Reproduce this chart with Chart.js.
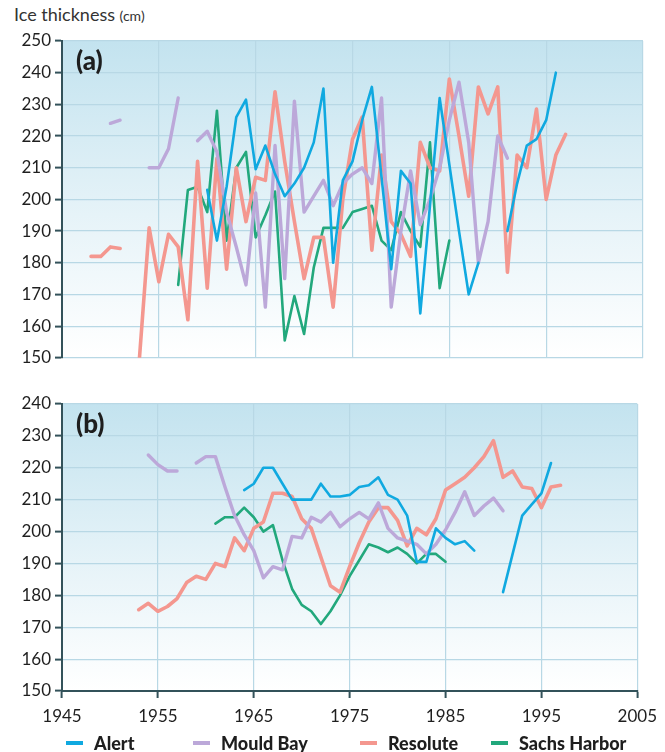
<!DOCTYPE html>
<html>
<head>
<meta charset="utf-8">
<script src="https://cdn.jsdelivr.net/npm/chart.js@4.4.1/dist/chart.umd.min.js"></script>
<style>
  html, body { margin: 0; padding: 0; background: #ffffff; }
  #wrap { position: relative; width: 665px; height: 752px; overflow: hidden; background: #fff; }
  .cv { position: absolute; left: 0; }
  #ylab { position: absolute; left: 14px; top: 3px; font-family: Lato, "Open Sans", sans-serif; font-size: 18px; color: #333; }
  #ylab span { font-size: 14px; }
  .plab { position: absolute; font-family: Lato, sans-serif; font-weight: 900; font-size: 26px; color: #1e1e1e; line-height: 1; }
  #legend { position: absolute; left: 0; top: 731px; width: 665px; height: 24px; }
  .li { position: absolute; top: 0; height: 24px; display: flex; align-items: center; font-family: Lato, sans-serif; font-weight: 900; font-size: 18px; color: #1e1e1e; }
  .li i { display: inline-block; width: 17px; height: 4px; margin-right: 11px; }
</style>
</head>
<body>
<div id="wrap">
  <div id="ylab">Ice thickness <span>(cm)</span></div>
  <canvas id="ca" class="cv" style="top:0" width="665" height="372"></canvas>
  <canvas id="cb" class="cv" style="top:380px" width="665" height="372"></canvas>
  <div class="plab" style="left:76px;top:47px">(a)</div>
  <div class="plab" style="left:76px;top:410px">(b)</div>
  <div id="legend"></div>
</div>
<script>
// ---------- DATA ----------
const years = [1948,1949,1950,1951,1952,1953,1954,1955,1956,1957,1958,1959,
  1960,1961,1962,1963,1964,1965,1966,1967,1968,1969,
  1970,1971,1972,1973,1974,1975,1976,1977,1978,1979,
  1980,1981,1982,1983,1984,1985,1986,1987,1988,1989,
  1990,1991,1992,1993,1994,1995,1996,1997];

const seriesNames = ['Alert', 'Mould Bay', 'Resolute', 'Sachs Harbor'];

const xTicks = [1945, 1955, 1965, 1975, 1985, 1995, 2005];
const yTicksA = [150, 160, 170, 180, 190, 200, 210, 220, 230, 240, 250];
const yTicksB = [150, 160, 170, 180, 190, 200, 210, 220, 230, 240];

// Panel (a): annual values
const alertA = [null,null,null,null,null,null,null,null,null,null,null,null,
  203,187,204,226,231.5,209.5,217,208,201,205,
  210,218,235,180,206,212,225,235.5,207,178,
  209,205,164,198,232,211,190,170,180,null,
  null,190,205,217,219,225,240,null];
const mouldBayA = [null,null,224,225,null,null,210,210,216,232,null,218.5,
  221.5,215,196,185,173,202,166,217,175,231,
  196,201,206,198,205,208,210,205,232,166,
  190,209,192,200,210,225,237,218,180,193,
  220,213,null,null,null,null,null,null];
const resoluteA = [182,182,185,184.5,null,150,191,174,189,185,162,212,
  172,213,178,210,193,207,206,234,212,193,
  175,188,188,166,200,219,226,184,214,193,
  189,182,218,210,209,238,220,201,235.5,227,
  235.5,177,214,210,228.5,200,214,220.5];
const sachsA = [null,null,null,null,null,null,null,null,null,173,203,204,
  196,228,187,210,215,188,195,202.5,155.5,169.5,
  157.5,178.5,191,191,191,196,197,198,187,184,
  196,190,185,218,172,187,null,null,null,null,
  null,null,null,null,null,null,null,null];

// Panel (b): smoothed values
const alertB = [null,null,null,null,null,null,null,null,null,null,null,null,
  null,null,null,null,213,215,220,220,215,210,
  210,210,215,211,211,211.5,214,214.5,217,211.5,
  210,205,190.5,190.5,201,198,196,197,194,null,
  null,181,193,205,208.5,212,221.5,null];
const mouldBayB = [null,null,null,null,null,null,224,221,219,219,null,221.5,
  223.5,223.5,214,205,199,194,185.5,189,188,198.5,
  198,204.5,203,206,201.5,204,206,204,209,201,
  198,197,196,193,196,200.5,206,212.5,205,208,
  210.5,206.5,null,null,null,null,null,null];
const resoluteB = [null,null,null,null,null,175.5,177.5,175,176.5,179,184,186,
  185,190,189,198,194,201,203,212,212,211,
  204,201,192,183,181,189,196.5,203,207.5,207.5,
  203.5,195.5,201,199,204,213,215,217,220,223.5,
  228.5,217,219,214,213.5,207.5,214,214.5];
const sachsB = [null,null,null,null,null,null,null,null,null,null,null,null,
  null,202.5,204.5,204.5,207.5,204.5,200,202,191,182,
  177,175,171,175,180,186,191,196,195,193.5,
  195,193,190,193,193,190.5,null,null,null,null,
  null,null,null,null,null,null,null,null];

// ---------- STYLE ----------
const colors = ['#10a9e0', '#bca8d9', '#f4978f', '#22a87c'];
const widths = [2.6, 3.4, 3.6, 2.6];
const axisColor = '#33525a';
const gridColor = '#b8d8e5';
const tickFont = { family: 'Lato, "Open Sans", sans-serif', size: 17 };

const bgPlugin = {
  id: 'plotBg',
  beforeDraw(chart) {
    const { ctx, chartArea } = chart;
    if (!chartArea) return;
    const { left, top, right, bottom } = chartArea;
    const g = ctx.createLinearGradient(0, top, 0, bottom);
    g.addColorStop(0, '#c3e3ef');
    g.addColorStop(0.55, '#e6f3f8');
    g.addColorStop(1, '#ffffff');
    ctx.save();
    ctx.fillStyle = g;
    ctx.fillRect(left, top, right - left, bottom - top);
    ctx.restore();
  }
};

function makePanel(id, sets, yTicks, isBottom) {
  return new Chart(document.getElementById(id), {
    type: 'line',
    data: {
      datasets: sets.map((vals, i) => ({
        label: seriesNames[i],
        data: years.map((yr, k) => ({ x: yr, y: vals[k] })),
        borderColor: colors[i],
        backgroundColor: colors[i],
        borderWidth: widths[i],
        pointRadius: 0,
        tension: 0,
        spanGaps: false,
        fill: false,
        borderJoinStyle: 'round',
        borderCapStyle: 'round'
      }))
    },
    options: {
      responsive: false,
      animation: false,
      devicePixelRatio: 1,
      layout: { padding: { left: 0, right: 22, top: isBottom ? 24 : 41, bottom: isBottom ? 0 : 12 } },
      plugins: { legend: { display: false }, tooltip: { enabled: false } },
      scales: {
        x: {
          type: 'linear',
          min: xTicks[0],
          max: xTicks[xTicks.length - 1],
          afterBuildTicks: s => { s.ticks = xTicks.map(v => ({ value: v })); },
          ticks: {
            display: isBottom, padding: 8, color: '#1f1f1f', font: tickFont,
            maxRotation: 0, autoSkip: false, callback: v => String(v)
          },
          grid: {
            color: gridColor, lineWidth: 1.2, drawTicks: isBottom, tickLength: 7,
            tickColor: axisColor, tickWidth: 2
          },
          border: { display: isBottom, color: axisColor, width: 2 },
          afterFit: s => { s.height = isBottom ? 61 : 0; }
        },
        y: {
          min: yTicks[0],
          max: yTicks[yTicks.length - 1],
          afterBuildTicks: s => { s.ticks = yTicks.map(v => ({ value: v })); },
          ticks: { padding: 4, color: '#1f1f1f', font: tickFont, callback: v => String(v) },
          grid: { color: gridColor, lineWidth: 1.2, drawTicks: true, tickLength: 7, tickColor: axisColor, tickWidth: 2 },
          border: { color: axisColor, width: 2 },
          afterFit: s => { s.width = 62; }
        }
      }
    },
    plugins: [bgPlugin]
  });
}

makePanel('ca', [alertA, mouldBayA, resoluteA, sachsA], yTicksA, false);
makePanel('cb', [alertB, mouldBayB, resoluteB, sachsB], yTicksB, true);

// legend (text)
const legendLeft = [66, 193, 360, 491];
const lg = document.getElementById('legend');
seriesNames.forEach((n, i) => {
  const d = document.createElement('div');
  d.className = 'li';
  d.style.left = legendLeft[i] + 'px';
  const sw = document.createElement('i');
  sw.style.background = colors[i];
  d.appendChild(sw);
  d.appendChild(document.createTextNode(n));
  lg.appendChild(d);
});
</script>
</body>
</html>
